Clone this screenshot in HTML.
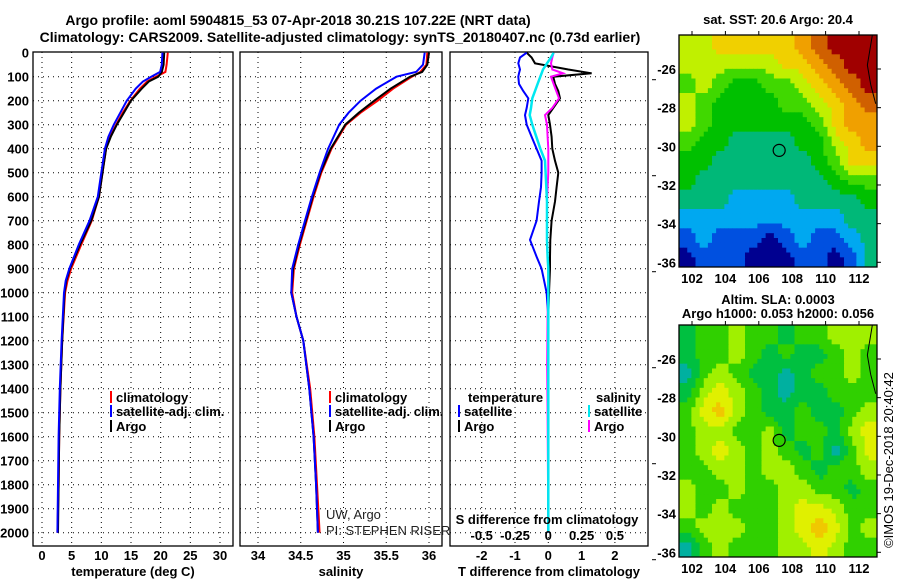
<!DOCTYPE html>
<html><head><meta charset="utf-8"><style>
body{margin:0;background:#fff;}
svg{display:block;font-family:"Liberation Sans",Arial,sans-serif;}
.t{font-weight:bold;font-size:14px;}
.m{font-weight:bold;font-size:13px;}
.tk{font-weight:bold;font-size:13px;}
</style></head><body>
<svg id="c" width="900" height="580" viewBox="0 0 900 580">
<text class="t" x="298" y="25" text-anchor="middle">Argo profile: aoml 5904815_53 07-Apr-2018 30.21S 107.22E (NRT data)</text>
<text class="t" x="340" y="42" text-anchor="middle">Climatology: CARS2009. Satellite-adjusted climatology: synTS_20180407.nc (0.73d earlier)</text>
<text class="m" x="778" y="24" text-anchor="middle">sat. SST: 20.6 Argo: 20.4</text>
<text class="m" x="778" y="304" text-anchor="middle">Altim. SLA: 0.0003</text>
<text class="m" x="778" y="318" text-anchor="middle">Argo h1000: 0.053 h2000: 0.056</text>
<text x="893" y="460" font-size="13" text-anchor="middle" transform="rotate(-90 893 460)">©IMOS 19-Dec-2018 20:40:42</text>
<g id="g"></g>
</svg>
<script>
var depthT=[0,50,80,100,120,150,200,250,300,350,400,500,600,700,800,900,950,1000,1200,1400,1600,1800,2000];
var tempArgo=[20.6,20.5,20.2,19.6,18.0,16.8,15.0,13.8,12.6,11.6,10.8,10.2,9.6,8.3,6.4,4.7,4.1,3.8,3.4,3.1,2.9,2.8,2.7];
var tempClim=[21.2,21.0,20.8,19.2,17.7,16.5,14.9,13.6,12.5,11.5,10.8,10.2,9.6,8.4,6.6,4.9,4.3,3.9,3.4,3.1,2.9,2.8,2.6];
var tempSat=[20.3,20.2,19.9,18.4,17.0,15.8,14.3,13.2,12.1,11.2,10.6,10.0,9.4,8.0,6.2,4.6,4.0,3.7,3.3,3.0,2.8,2.7,2.6];
var depthS=[0,50,80,100,150,200,250,300,400,500,600,700,800,900,1000,1100,1200,1400,1600,1800,2000];
var salArgo=[36.0,35.98,35.92,35.78,35.55,35.36,35.18,35.02,34.85,34.73,34.64,34.56,34.48,34.41,34.39,34.45,34.53,34.6,34.65,34.68,34.7];
var salClim=[35.98,35.97,35.9,35.8,35.58,35.4,35.2,35.03,34.86,34.74,34.65,34.57,34.49,34.42,34.40,34.45,34.53,34.61,34.66,34.69,34.72];
var salSat=[35.95,35.93,35.85,35.62,35.38,35.2,35.06,34.95,34.82,34.72,34.63,34.55,34.47,34.4,34.39,34.45,34.53,34.6,34.65,34.68,34.7];
var depthD=[0,20,44,70,86,100,130,160,190,230,260,300,350,400,450,500,560,620,700,780,850,900,1000,1100,1300,1500,2000];
var dTArgo=[-0.65,-0.5,-0.4,0.6,1.3,0.15,0.2,0.3,0.35,0.15,0.0,0.05,0.1,0.12,0.2,0.3,0.25,0.2,0.1,0.06,0.05,0.05,0.02,0.0,0.0,0.0,0.0];
var dTSat=[-0.65,-0.85,-0.9,-0.85,-0.88,-0.9,-0.88,-0.75,-0.6,-0.65,-0.7,-0.65,-0.5,-0.35,-0.2,-0.2,-0.22,-0.28,-0.35,-0.55,-0.35,-0.2,-0.05,0.0,0.0,0.0,0.0];
var dSSat=[0.04,0.02,-0.01,-0.04,-0.05,-0.06,-0.08,-0.1,-0.12,-0.13,-0.14,-0.12,-0.09,-0.06,-0.025,-0.02,-0.015,-0.01,-0.01,-0.01,-0.005,0,0,0,0,0,0];
var dSArgo=[0.04,0.03,0.02,0.03,0.11,0.02,0.04,0.06,0.08,0.03,-0.025,-0.01,-0.005,0,0,0,-0.005,-0.01,-0.01,-0.01,-0.005,0,0,-0.005,-0.008,-0.005,0];
var depthTicks=[0,100,200,300,400,500,600,700,800,900,1000,1100,1200,1300,1400,1500,1600,1700,1800,1900,2000];
var tempTicks=[0,5,10,15,20,25,30];
var salTicks=[34,34.5,35,35.5,36];
var salTickLabels=["34","34.5","35","35.5","36"];
var dTTicks=[-2,-1,0,1,2];
var dSTicks=[-0.5,-0.25,0,0.25,0.5];
var dSTickLabels=["-0.5","-0.25","0","0.25","0.5"];
var sstGrid=[
[6,6,7,7,7,7,7,8,9,10,10,10],
[6,6,6,6,6,6,7,7,8,9,10,10],
[5,6,5,4,4,5,5,6,7,8,9,10],
[6,5,4,4,4,4,5,5,6,7,8,9],
[6,5,4,4,4,4,4,4,5,7,8,8],
[5,4,4,3,3,3,3,4,4,6,7,8],
[4,4,3,3,3,3,3,3,4,5,7,7],
[4,3,3,3,3,3,3,3,3,4,5,5],
[3,3,3,2,2,2,2,3,3,3,3,4],
[2,2,2,2,2,2,2,2,2,2,3,3],
[1,2,1,1,1,0,1,2,1,1,2,3],
[0,1,1,1,0,0,0,1,1,0,1,3]];
var slaGrid=[
[1,2,2,3,2,2,1,2,2,3,3,3],
[1,2,2,3,2,1,2,1,1,2,3,2],
[0,2,3,2,1,1,0,1,2,2,3,2],
[1,3,4,3,2,1,0,1,1,2,2,2],
[2,4,5,3,2,1,1,2,1,1,2,3],
[2,3,3,2,2,3,1,2,2,1,3,4],
[2,3,4,3,2,3,2,1,2,0,2,4],
[2,2,3,3,2,3,3,2,1,2,2,3],
[3,2,2,3,2,2,3,3,2,2,1,2],
[3,2,3,2,2,2,3,4,4,3,2,2],
[2,3,3,3,2,2,3,4,5,4,2,3],
[0,2,3,2,2,2,3,3,4,3,2,2]];
var lonTicks=[102,104,106,108,110,112];
var latTicks=[-26,-28,-30,-32,-34,-36];
var argoLon=107.22, argoLat=-30.21;
var sstColors=["#000090","#0050e0","#00a8f0","#00b878","#00c000","#40d800","#c0f000","#f0d000","#f0a000","#d06000","#a00000"];
var slaColors=["#00b0a0","#00c040","#30d000","#a0f000","#e0f000","#f0c800"];

var NS="http://www.w3.org/2000/svg", G=document.getElementById('g');
function el(tag,attrs,txt){var e=document.createElementNS(NS,tag);for(var k in attrs)e.setAttribute(k,attrs[k]);if(txt!=null)e.textContent=txt;G.appendChild(e);return e;}
function dY(d){return 52.7+d*0.24;}
function tX(t){return 42+t*5.933;}
function sX(s){return 258+(s-34)*85.5;}
function dX(v){return 548.3+v*33.3;}
function sdX(s){return 548.3+s*133.2;}
var TOP=52,BOT=546;
function panel(x0,x1,name,xt,xf,xl,title){
  for(var i=1;i<depthTicks.length;i++){var y=dY(depthTicks[i]);
    var l=el('line',{x1:x0,x2:x1,y1:y,y2:y,stroke:'#000','stroke-dasharray':'1,4'});
    }
  for(var j=0;j<xt.length;j++){var x=xf(xt[j]);
    var v=el('line',{x1:x,x2:x,y1:TOP,y2:BOT,stroke:'#000','stroke-dasharray':'1,4'});
    
    var t=el('text',{x:x,y:560,'class':'tk','text-anchor':'middle'},xl[j]);
    }
  var r=el('rect',{x:x0,y:TOP,width:x1-x0,height:BOT-TOP,fill:'none',stroke:'#000','stroke-width':1.3});
  
  var tt=el('text',{x:(x0+x1)/2,y:576,'class':'tk','text-anchor':'middle'},title);
  
}
function line(xs,ds,xf,color,name,w){
  var p='';for(var i=0;i<xs.length;i++)p+=(i?'L':'M')+xf(xs[i]).toFixed(1)+','+dY(ds[i]).toFixed(1);
  var e=el('path',{d:p,fill:'none',stroke:color,'stroke-width':w||2});
  
}
panel(33,233,'temperature-panel',tempTicks,tX,tempTicks.map(String),'temperature (deg C)');
panel(240,442,'salinity-panel',salTicks,sX,salTickLabels,'salinity');
panel(450,648,'difference-panel',dTTicks,dX,dTTicks.map(String),'T difference from climatology');
for(var i=0;i<depthTicks.length;i++){
  var yl=el('text',{x:29,y:dY(depthTicks[i])+5,'class':'tk','text-anchor':'end'},String(depthTicks[i]));
  }
for(var i=0;i<depthTicks.length;i+=4){
  var rt=el('line',{x1:652,x2:656,y1:dY(depthTicks[i])+27,y2:dY(depthTicks[i])+27,stroke:'#000'});
  }
line(tempClim,depthT,tX,'#ff0000','temp-climatology-line');
line(tempArgo,depthT,tX,'#000','temp-argo-line');
line(tempSat,depthT,tX,'#0000ff','temp-satellite-line');
line(salClim,depthS,sX,'#ff0000','sal-climatology-line');
line(salArgo,depthS,sX,'#000','sal-argo-line');
line(salSat,depthS,sX,'#0000ff','sal-satellite-line');
line(dTArgo,depthD,dX,'#000','dT-argo-line');
line(dTSat,depthD,dX,'#0000ff','dT-satellite-line');
line(dSArgo,depthD,sdX,'#ff00ff','dS-argo-line');
line(dSSat,depthD,sdX,'#00e8f0','dS-satellite-line',2.5);
var st=el('text',{x:547,y:524,'class':'tk','text-anchor':'middle','font-size':12.5},'S difference from climatology');

for(var j=0;j<dSTicks.length;j++){var q=el('text',{x:sdX(dSTicks[j]),y:540,'class':'tk','text-anchor':'middle'},dSTickLabels[j]);
  }
function leg(x,y,color,label,name){
  var m=el('line',{x1:x,x2:x,y1:y-11,y2:y+1,stroke:color,'stroke-width':2});
  
  var t=el('text',{x:x+5,y:y,'class':'tk'},label);
  }
leg(111,402,'#ff0000','climatology','legend-temp-climatology');
leg(111,416,'#0000ff','satellite-adj. clim.','legend-temp-satellite');
leg(111,431,'#000','Argo','legend-temp-argo');
leg(330,402,'#ff0000','climatology','legend-sal-climatology');
leg(330,416,'#0000ff','satellite-adj. clim.','legend-sal-satellite');
leg(330,431,'#000','Argo','legend-sal-argo');
var lt=el('text',{x:468,y:402,'class':'tk'},'temperature');
var ls=el('text',{x:596,y:402,'class':'tk'},'salinity');
leg(459,416,'#0000ff','satellite','legend-dT-satellite');
leg(459,431,'#000','Argo','legend-dT-argo');
leg(589,416,'#00e8f0','satellite','legend-dS-satellite');
leg(589,431,'#ff00ff','Argo','legend-dS-argo');
var c1=el('text',{x:326,y:519,'font-size':13,fill:'#222'},'UW, Argo');
var c2=el('text',{x:326,y:535,'font-size':13,fill:'#222'},'PI: STEPHEN RISER');
function sample(grid,fr,fc){
  var rows=grid.length,cols=grid[0].length;
  var r=Math.max(0,Math.min(rows-1,fr-0.5)),c=Math.max(0,Math.min(cols-1,fc-0.5));
  var r0=Math.floor(r),c0=Math.floor(c),r1=Math.min(rows-1,r0+1),c1=Math.min(cols-1,c0+1),a=r-r0,b=c-c0;
  return grid[r0][c0]*(1-a)*(1-b)+grid[r0][c1]*(1-a)*b+grid[r1][c0]*a*(1-b)+grid[r1][c1]*a*b;
}
function map(y0,grid,colors,name){
  var x0=679,x1=877,y1=y0+232;
  function mx(lon){return 692+(lon-102)*16.7;}
  function my(lat){return y0+34+(-26-lat)*19.33;}
  var rows=grid.length,cols=grid[0].length,SUB=4,cw=(x1-x0)/(cols*SUB),ch=(y1-y0)/(rows*SUB);
  for(var r=0;r<rows*SUB;r++)for(var c=0;c<cols*SUB;c++){
    var v=Math.round(sample(grid,(r+0.5)/SUB,(c+0.5)/SUB));
    var e=el('rect',{x:(x0+c*cw).toFixed(2),y:(y0+r*ch).toFixed(2),width:(cw+0.4).toFixed(2),height:(ch+0.4).toFixed(2),fill:colors[v]});
    }
  var coast=el('path',{d:'M'+mx(112.8)+','+y0+' L'+mx(112.5)+','+my(-25.8)+' L'+mx(112.7)+','+my(-26.8)+' L'+mx(113.0)+','+my(-27.8),fill:'none',stroke:'#000','stroke-width':1});
  
  var ci=el('circle',{cx:mx(argoLon),cy:my(argoLat),r:6,fill:'none',stroke:'#000','stroke-width':1.2});
  
  var fr=el('rect',{x:x0,y:y0,width:x1-x0,height:y1-y0,fill:'none',stroke:'#000','stroke-width':1.3});
  
  for(var i=0;i<lonTicks.length;i++){var x=mx(lonTicks[i]);
    var tl=el('line',{x1:x,x2:x,y1:y0,y2:y0-4,stroke:'#000'});
    var lb=el('text',{x:x,y:y1+16,'class':'tk','text-anchor':'middle'},String(lonTicks[i]));
    }
  for(var i=0;i<latTicks.length;i++){var y=my(latTicks[i]);
    var tr=el('line',{x1:x1,x2:x1+4,y1:y,y2:y,stroke:'#000'});
    var lb2=el('text',{x:676,y:y+5,'class':'tk','text-anchor':'end'},String(latTicks[i]));
    }
}
map(35,sstGrid,sstColors,'sst-map');
map(325,slaGrid,slaColors,'sla-map');
</script>
</body></html>
